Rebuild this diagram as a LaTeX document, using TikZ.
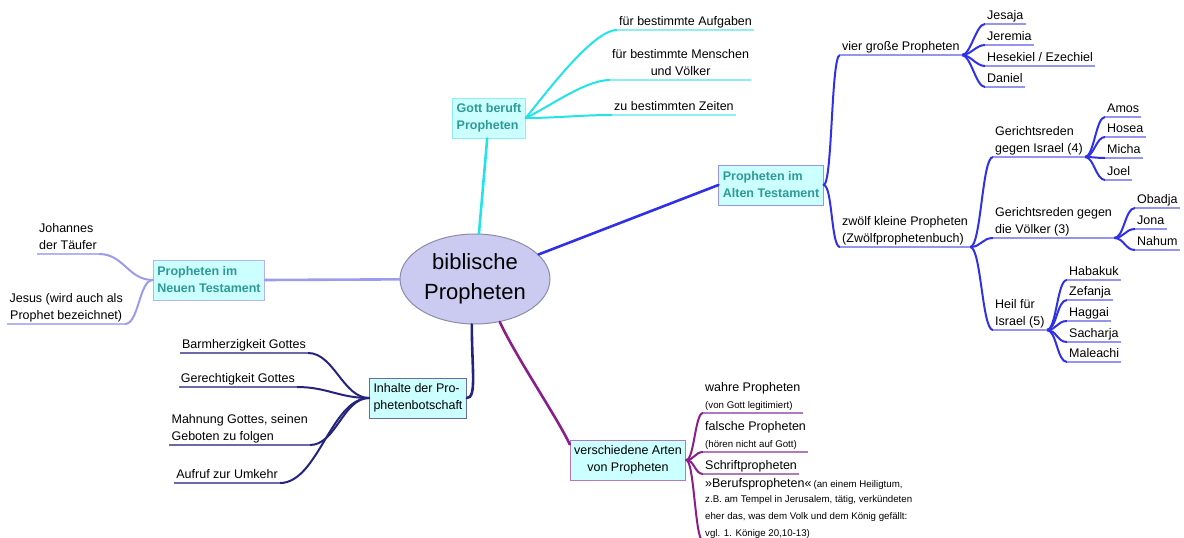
\documentclass[tikz,border=0pt]{standalone}
\usepackage{fontspec}
\setmainfont{Liberation Sans}
\usetikzlibrary{shapes.geometric}
\definecolor{hubfill}{HTML}{CBCBF2}
\definecolor{hubline}{HTML}{8C8CAA}
\definecolor{boxfill}{HTML}{CCFFFF}
\definecolor{boxtext}{HTML}{2E9A96}
\definecolor{cG}{HTML}{22E4E8}
\definecolor{uG}{HTML}{8EEEF0}
\definecolor{cA}{HTML}{3030E6}
\definecolor{uA}{HTML}{9595EE}
\definecolor{cN}{HTML}{9C9CEC}
\definecolor{uN}{HTML}{B4B4F2}
\definecolor{cI}{HTML}{24247E}
\definecolor{uI}{HTML}{6A6AA6}
\definecolor{cV}{HTML}{8A1E8A}
\definecolor{uV}{HTML}{B27ABE}
\newcommand\smallfnt{\fontsize{9.7}{15}\selectfont}
\begin{document}
\begin{tikzpicture}[x=1pt,y=-1pt,
  hub/.style={ellipse,draw=hubline,line width=1pt,fill=hubfill,minimum width=150pt,minimum height=90pt,inner sep=0pt,align=center,font=\fontsize{22}{30}\selectfont},
  topic/.style={draw=#1,line width=0.8pt,fill=boxfill,align=left,inner xsep=4pt,inner ysep=3pt,minimum height=40pt,font=\fontsize{12.5}{17}\selectfont\bfseries,text=boxtext},
  topicplain/.style={topic=#1,font=\fontsize{12.5}{17}\selectfont,text=black},
  leaf/.style={inner xsep=2pt,inner ysep=1.5pt,text depth=2.6pt,font=\fontsize{12.5}{17}\selectfont,align=left},
  lr/.style={leaf,anchor=south west},
  lft/.style={leaf,anchor=south east},
  main/.style={draw=#1,line width=2.6pt,line cap=round},
  twig/.style={draw=#1,line width=2pt,line cap=round},
  uline/.style={draw=#1,line width=1.2pt},
  sr/.style={out=0,in=180,out distance=#1,in distance=#1},
  sl/.style={out=180,in=0,out distance=#1,in distance=#1}
]
\useasboundingbox (0,0) rectangle (1184,538);

% hub and topics
\node[hub] (hub) at (475,279) {biblische\\Propheten};
\node[topic=uG] (gott) at (489,118) {Gott beruft\\Propheten};
\node[topic=uA] (alt) at (771,185) {Propheten im\\Alten Testament};
\node[topic=uN] (neu) at (209,280) {Propheten im\\Neuen Testament};
\node[topicplain=uI] (inh) at (418,398) {Inhalte der Pro-\\phetenbotschaft};
\node[topicplain=uV,align=center] (ver) at (628,460) {verschiedene Arten\\von Propheten};

% Gott beruft
\node[lr] (auf) at (617,30) {für bestimmte Aufgaben};
\node[lr,align=center] (men) at (610,80) {für bestimmte Menschen\\und Völker};
\node[lr] (zei) at (612,115) {zu bestimmten Zeiten};

% Altes Testament
\node[lr] (vier) at (840,55) {vier große Propheten};
\node[lr] (zwo) at (840,247) {zwölf kleine Propheten\\(Zwölfprophetenbuch)};
\node[lr] (jes) at (985,24) {Jesaja};
\node[lr] (jer) at (985,45) {Jeremia};
\node[lr] (hes) at (985,66) {Hesekiel / Ezechiel};
\node[lr] (dan) at (985,87) {Daniel};
\node[lr] (gi) at (993,157) {Gerichtsreden\\gegen Israel (4)};
\node[lr] (gv) at (993,238) {Gerichtsreden gegen\\die Völker (3)};
\node[lr] (hi) at (993,330) {Heil für\\Israel (5)};
\node[lr] (amos) at (1105,117) {Amos};
\node[lr] (hosea) at (1105,137) {Hosea};
\node[lr] (micha) at (1105,158) {Micha};
\node[lr] (joel) at (1105,180) {Joel};
\node[lr] (obadja) at (1135,208) {Obadja};
\node[lr] (jona) at (1135,229) {Jona};
\node[lr] (nahum) at (1135,250) {Nahum};
\node[lr] (hab) at (1067,280) {Habakuk};
\node[lr] (zef) at (1067,300) {Zefanja};
\node[lr] (hag) at (1067,321) {Haggai};
\node[lr] (sach) at (1067,342) {Sacharja};
\node[lr] (mal) at (1067,362) {Maleachi};

% Neues Testament
\node[lft] (joh) at (99,254) {Johannes\\der Täufer};
\node[lft,align=center] (jesus) at (125,324) {Jesus (wird auch als\\Prophet bezeichnet)};

% Inhalte
\node[lft] (barm) at (308,353) {Barmherzigkeit Gottes};
\node[lft] (ger) at (297,387) {Gerechtigkeit Gottes};
\node[lft] (mahn) at (310,445) {Mahnung Gottes, seinen\\Geboten zu folgen};
\node[lft] (aufr) at (280,483) {Aufruf zur Umkehr};

% verschiedene Arten
\node[lr] (wahre) at (703,413) {wahre Propheten\\\smallfnt (von Gott legitimiert)};
\node[lr] (falsche) at (703,452) {falsche Propheten\\\smallfnt (hören nicht auf Gott)};
\node[lr] (schrift) at (703,474) {Schriftpropheten};
\node[lr] (beruf) at (703,541) {»Berufspropheten«\,\smallfnt(an einem Heiligtum,\\[-2pt]\smallfnt z.B. am Tempel in Jerusalem, tätig, verkündeten\\\smallfnt eher das, was dem Volk und dem König gefällt:\\\smallfnt vgl. 1. Könige 20,10-13)};

% hub connectors
\draw[main=cG] (hub) -- (gott);
\draw[main=cA] (hub) -- (alt.west);
\draw[main=cN] (hub) -- (neu.east);
\draw[main=cI] (hub.266) to[out=-90,in=0,out distance=45,in distance=10] (inh.east);
\draw[main=cV] (hub.300) to[out=-65,in=115,out distance=40,in distance=30] (ver.165);

% Gott branches
\draw[twig=cG] (gott.east) to[out=50,in=180,out distance=25,in distance=25] (auf.south west);
\draw[twig=cG] (gott.east) to[out=25,in=180,out distance=25,in distance=25] (men.south west);
\draw[twig=cG] (gott.east) to[sr=30] (zei.south west);
\foreach \c in {auf,men,zei}{\draw[uline=uG] (\c.south west) -- (\c.south east);}

% Alt branches
\draw[twig=cA] (alt.east) to[sr=9] (vier.south west);
\draw[twig=cA] (alt.east) to[sr=9] (zwo.south west);
\foreach \c in {jes,jer,hes,dan}{\draw[twig=cA] (vier.south east) to[sr=9] (\c.south west);}
\foreach \c in {gi,gv,hi}{\draw[twig=cA] (zwo.south east) to[sr=11] (\c.south west);}
\foreach \c in {amos,hosea,micha,joel}{\draw[twig=cA] (gi.south east) to[sr=9] (\c.south west);}
\foreach \c in {obadja,jona,nahum}{\draw[twig=cA] (gv.south east) to[sr=10] (\c.south west);}
\foreach \c in {hab,zef,hag,sach,mal}{\draw[twig=cA] (hi.south east) to[sr=10] (\c.south west);}
\foreach \c in {vier,zwo,jes,jer,hes,dan,gi,gv,hi,amos,hosea,micha,joel,obadja,jona,nahum,hab,zef,hag,sach,mal}{\draw[uline=uA] (\c.south west) -- (\c.south east);}

% Neu branches
\draw[twig=cN] (neu.west) to[sl=25] (joh.south east);
\draw[twig=cN] (neu.west) to[sl=14] (jesus.south east);
\foreach \c in {joh,jesus}{\draw[uline=uN] (\c.south east) -- (\c.south west);}

% Inhalte branches
\draw[twig=cI] (inh.west) to[sl=26] (barm.south east);
\draw[twig=cI] (inh.west) to[sl=30] (ger.south east);
\draw[twig=cI] (inh.west) to[sl=26] (mahn.south east);
\draw[twig=cI] (inh.west) to[sl=38] (aufr.south east);
\foreach \c in {barm,ger,mahn,aufr}{\draw[uline=uI] (\c.south east) -- (\c.south west);}

% verschiedene branches
\foreach \c in {wahre,falsche,schrift,beruf}{\draw[twig=cV] (ver.east) to[sr=8] (\c.south west);}
\foreach \c in {wahre,falsche,schrift,beruf}{\draw[uline=uV] (\c.south west) -- (\c.south east);}
\end{tikzpicture}
\end{document}
